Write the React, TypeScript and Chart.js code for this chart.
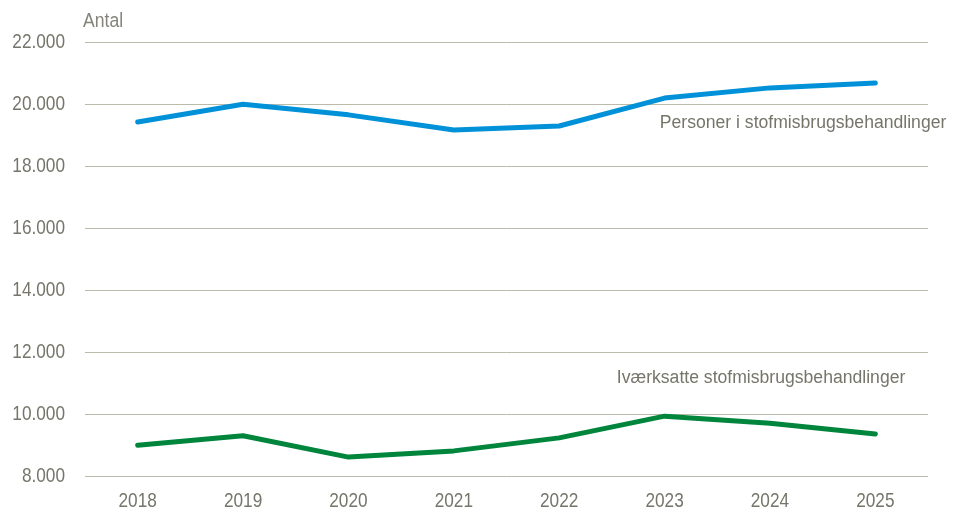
import React, { useEffect, useRef } from "react";
import { Chart, registerables } from "chart.js";

Chart.register(...registerables);

const years = ["2018", "2019", "2020", "2021", "2022", "2023", "2024", "2025"];
const personer = [19420, 19990, 19650, 19160, 19290, 20190, 20520, 20680];
const iværksatte = [8990, 9300, 8610, 8810, 9230, 9930, 9700, 9355];
const yTicks = [8000, 10000, 12000, 14000, 16000, 18000, 20000, 22000];
const axisTitle = "Antal";
const labelPersoner = "Personer i stofmisbrugsbehandlinger";
const labelIværksatte = "Iværksatte stofmisbrugsbehandlinger";

const FONT = "'Liberation Sans', Arial, sans-serif";
const TEXT = "#76756a";
const BLUE = "#0091d8";
const GREEN = "#00853d";
const SQUEEZE = 0.82;

const fmt = (v: number) => v.toLocaleString("de-DE").replace(/,/g, ".");

function narrowText(ctx: any, text: string, x: number, y: number, align: string, sx: number) {
  ctx.save();
  ctx.translate(x, y);
  ctx.scale(sx, 1);
  ctx.textAlign = align;
  ctx.fillText(text, 0, 0);
  ctx.restore();
}

const labelsPlugin = {
  id: "labelsPlugin",
  afterDraw(chart: any) {
    const ctx = chart.ctx;
    const x = chart.scales.x;
    const y = chart.scales.y;
    ctx.save();
    ctx.textBaseline = "middle";
    // axis tick labels (condensed)
    ctx.font = `21px ${FONT}`;
    ctx.fillStyle = TEXT;
    y.ticks.forEach((t: any) => {
      narrowText(ctx, fmt(t.value), y.right - 20, y.getPixelForValue(t.value) + 0.5, "right", SQUEEZE);
    });
    years.forEach((lab, i) => {
      narrowText(ctx, lab, x.getPixelForValue(i), x.top + 25, "center", SQUEEZE);
    });
    // axis title
    ctx.font = `20px ${FONT}`;
    ctx.fillStyle = "#85847b";
    narrowText(ctx, axisTitle, chart.chartArea.left - 2, y.getPixelForValue(22000) - 21, "left", 0.88);
    // series labels
    ctx.font = `17.6px ${FONT}`;
    ctx.fillStyle = TEXT;
    ctx.textAlign = "right";
    ctx.fillText(labelPersoner, x.getPixelForValue(7) + 71, y.getPixelForValue(19370));
    ctx.fillText(labelIværksatte, x.getPixelForValue(7) + 30, y.getPixelForValue(11150));
    ctx.restore();
  },
};

export default function App() {
  const ref = useRef<HTMLCanvasElement>(null);
  useEffect(() => {
    if (!ref.current) return;
    const chart = new Chart(ref.current, {
      type: "line",
      data: {
        labels: years,
        datasets: [
          {
            label: labelPersoner,
            data: personer,
            borderColor: BLUE,
            backgroundColor: BLUE,
            borderWidth: 5,
            pointRadius: 0,
            tension: 0,
            borderCapStyle: "round",
            borderJoinStyle: "round",
          },
          {
            label: labelIværksatte,
            data: iværksatte,
            borderColor: GREEN,
            backgroundColor: GREEN,
            borderWidth: 5,
            pointRadius: 0,
            tension: 0,
            borderCapStyle: "round",
            borderJoinStyle: "round",
          },
        ],
      },
      options: {
        animation: false,
        responsive: false,
        maintainAspectRatio: false,
        layout: { padding: { top: 42, right: 26, left: 0, bottom: 0 } },
        plugins: { legend: { display: false }, tooltip: { enabled: false } },
        scales: {
          x: {
            offset: true,
            grid: { display: false, drawTicks: false },
            border: { display: false },
            ticks: { color: "rgba(0,0,0,0)", font: { family: FONT, size: 17 }, padding: 12, maxRotation: 0 },
            afterFit(scale: any) {
              scale.height = 34;
            },
          },
          y: {
            min: 8000,
            max: 22000,
            grid: { color: "#bcbaab", lineWidth: 1, drawTicks: false },
            border: { display: false },
            afterBuildTicks(scale: any) {
              scale.ticks = yTicks.map((v) => ({ value: v }));
            },
            ticks: {
              color: "rgba(0,0,0,0)",
              font: { family: FONT, size: 17 },
              padding: 20,
              callback: (v: any) => fmt(Number(v)),
            },
            afterFit(scale: any) {
              scale.width = 85;
            },
          },
        },
      },
      plugins: [labelsPlugin],
    } as any);
    return () => chart.destroy();
  }, []);
  return (
    <div style={{ position: "absolute", left: 0, top: 0, width: 954, height: 510, background: "#fff" }}>
      <canvas ref={ref} width={954} height={510} style={{ width: 954, height: 510 }} />
    </div>
  );
}
